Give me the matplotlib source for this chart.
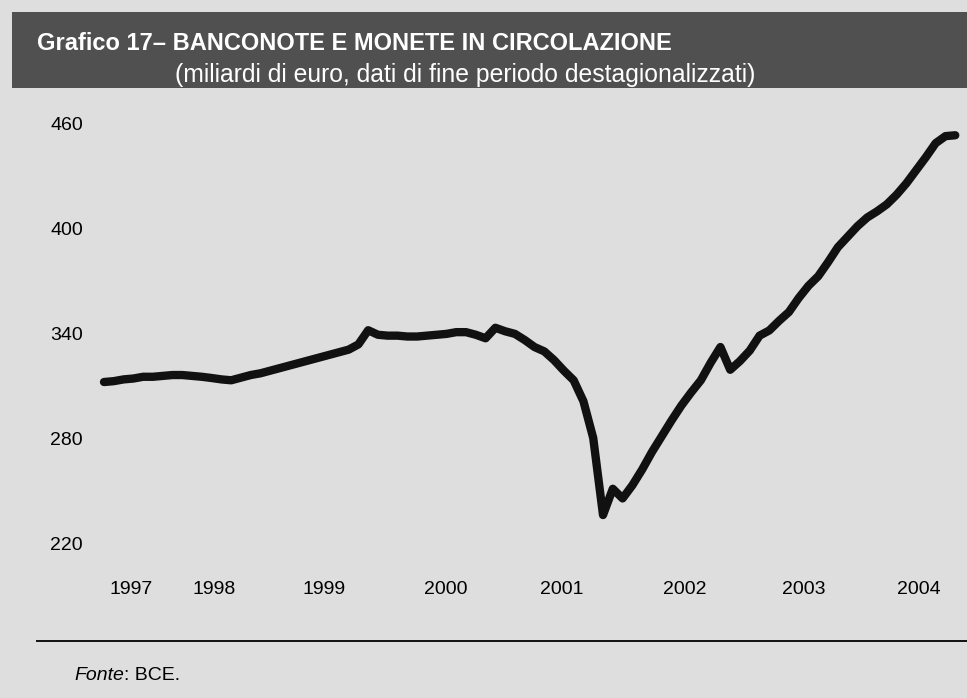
import matplotlib
matplotlib.use("Agg")
import matplotlib.pyplot as plt
from matplotlib.patches import Rectangle
import matplotlib.transforms as mtransforms

plt.rcParams['font.family'] = ['Liberation Sans', 'DejaVu Sans']

# monthly data, Sep 1997 .. Dec 2004 (miliardi di euro)
start_month = "1997-09"
circolante = [312, 312.5, 313.5, 314,                                   # 1997
              315, 315, 315.5, 316, 316, 315.5, 315, 314.3, 313.5, 313, 314.5, 316,      # 1998
              317, 318.5, 320, 321.5, 323, 324.5, 326, 327.5, 329, 330.5, 333.5, 341.6,  # 1999
              339, 338.5, 338.5, 338, 338, 338.5, 339, 339.5, 340.5, 340.5, 339, 337,    # 2000
              343, 341, 339.5, 336, 332, 329.5, 324.5, 318.5, 313, 301, 280, 236,        # 2001
              251, 245.5, 253, 262, 272, 281, 290, 298.5, 306, 313, 323, 332,            # 2002
              319, 324, 330, 338.5, 341.5, 347, 352, 360, 367, 372.5, 380.5, 389,        # 2003
              395, 401, 406, 409.5, 413.5, 419, 425.5, 433, 440.5, 448.5, 452.5, 453]    # 2004
ytick_values = [220, 280, 340, 400, 460]
year_labels = ["1997", "1998", "1999", "2000", "2001", "2002", "2003", "2004"]

title = "Grafico 17\u2013 BANCONOTE E MONETE IN CIRCOLAZIONE"
subtitle = "(miliardi di euro, dati di fine periodo destagionalizzati)"

# layout
W, H = 967, 698
bg = "#dedede"
year_pos = [2.8, 11.3, 22.5, 34.9, 46.8, 59.4, 71.5, 83.3]   # label centres, in months

fig = plt.figure(figsize=(W / 100, H / 100), dpi=100, facecolor=bg)

def fy(py):
    return 1 - py / H

# header bar
fig.patches.append(Rectangle((12 / W, fy(88)), 1 - 12 / W, 76 / H, transform=fig.transFigure,
                             facecolor="#505050", edgecolor="none", zorder=0))
fig.text(37 / W, fy(50), title, color="white", fontsize=17, fontweight="bold", va="baseline")
fig.text(175 / W, fy(82), subtitle, color="white", fontsize=17.8, va="baseline")

ax = fig.add_axes([90 / W, fy(570), 1 - 90 / W, (570 - 95) / H])
ax.set_facecolor(bg)
months = list(range(len(circolante)))
ax.plot(months, circolante, color="#111111", lw=6, solid_capstyle="round", solid_joinstyle="round")

ax.set_xlim(-1.43, 88.2)
ax.set_ylim(204.6, 476)
for s in ax.spines.values():
    s.set_visible(False)
ax.set_xticks([])
ax.set_yticks(ytick_values)
ax.set_yticklabels([str(v) for v in ytick_values])
ax.tick_params(axis="y", length=0, pad=5, labelsize=14)

trans = mtransforms.blended_transform_factory(ax.transData, fig.transFigure)
for lab, xp in zip(year_labels, year_pos):
    ax.text(xp, fy(590), lab, transform=trans, ha="center", va="center", fontsize=14)

# bottom rule and source
fig.add_artist(plt.Line2D([37 / W, 1], [fy(641), fy(641)], transform=fig.transFigure,
                          color="#111111", lw=1.4))
t1 = fig.text(74 / W, fy(675), "Fonte", fontsize=14, style="italic", va="center")
renderer = fig.canvas.get_renderer()
bb = t1.get_window_extent(renderer)
fig.text(bb.x1 / W, fy(675), ": BCE.", fontsize=14, va="center")

fig.savefig("out.png", dpi=100, facecolor=bg)
